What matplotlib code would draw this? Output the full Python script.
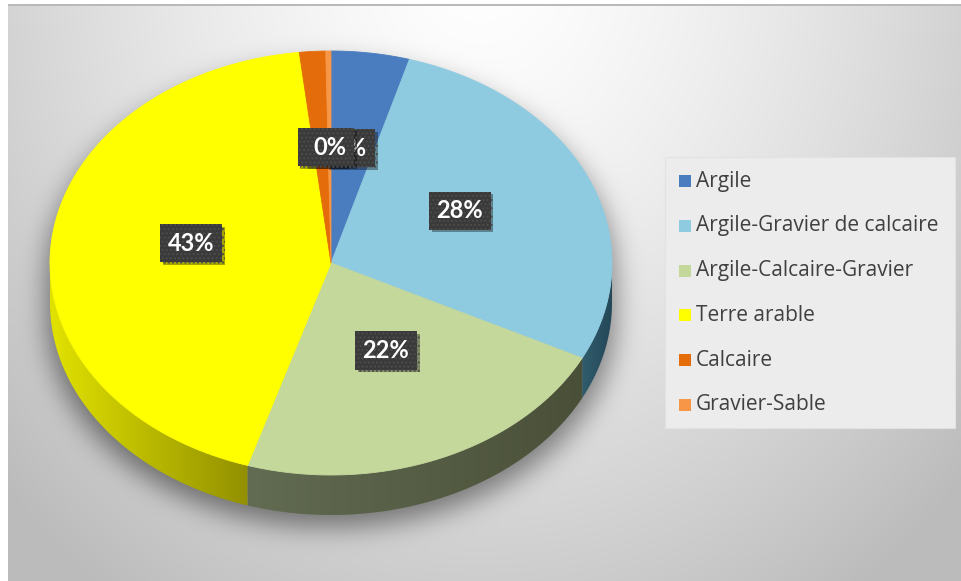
import numpy as np
import matplotlib
matplotlib.use("Agg")
import matplotlib.pyplot as plt
from matplotlib.patches import Polygon, Rectangle
import matplotlib.patheffects as pe

# soil types and their share of the sampled area (%)
categories = ["Argile", "Argile-Gravier de calcaire", "Argile-Calcaire-Gravier",
              "Terre arable", "Calcaire", "Gravier-Sable"]
shares = [4.5, 27.9, 22.4, 43.4, 1.5, 0.3]

top_colors = ["#4a7cc0", "#8fcbe0", "#c4d89c", "#ffff00", "#e46c0a", "#f79646"]
# side wall colours, left -> right
side_colors = [((40, 80, 120), (30, 65, 100)),
               ((48, 92, 108), (36, 72, 88)),
               ((98, 108, 82), (74, 80, 56)),
               ((226, 226, 0), (146, 144, 0)),
               ((150, 70, 10), (120, 55, 5)),
               ((160, 95, 45), (130, 75, 35))]

W, H = 962, 581
CX, CY, RX, RY, DEPTH = 331, 263, 281, 212, 40

fig = plt.figure(figsize=(W / 100, H / 100), dpi=100)
ax = fig.add_axes([0, 0, 1, 1])
ax.axis("off")


def blur(a, s):
    k = np.exp(-0.5 * (np.arange(-3 * s, 3 * s + 1) / s) ** 2)
    k /= k.sum()
    a = np.apply_along_axis(lambda r: np.convolve(r, k, mode="same"), 1, a)
    return np.apply_along_axis(lambda c: np.convolve(c, k, mode="same"), 0, a)


# background: soft radial grey gradient + drop shadow under the pie
yy, xx = np.mgrid[0:H, 0:W].astype(float)
d = np.sqrt(((xx - 480) / 540) ** 2 + ((yy + 40) / 640) ** 2)
bg = 255 - 52 * np.clip(d, 0, 1.2) ** 1.4
off = 12
foot = ((((xx - CX) / (RX + 4)) ** 2 + ((yy - CY - off) / RY) ** 2) <= 1) | \
       ((((xx - CX) / (RX + 4)) ** 2 + ((yy - CY - DEPTH - off) / RY) ** 2) <= 1) | \
       ((np.abs(xx - CX) <= RX + 4) & (yy >= CY + off) & (yy <= CY + DEPTH + off))
bg -= 95 * blur(foot.astype(float), 13)
bg[:4, :] = 255
bg[:, :8] = 255
bg[4:6, 8:] = 185
ax.imshow(np.dstack([bg] * 3).clip(0, 255).astype(np.uint8),
          extent=(0, W, H, 0), zorder=0)


def rim(t0, t1, dy=0, n=160):
    t = np.radians(np.linspace(t0, t1, n))
    return np.column_stack([CX + RX * np.sin(t), CY + dy - RY * np.cos(t)])


edges = np.concatenate([[0], np.cumsum(shares) / sum(shares) * 360])

# side walls of the front half (clockwise angle 90..270 from 12 o'clock)
for i in range(len(shares)):
    s, e = max(edges[i], 90), min(edges[i + 1], 270)
    if s >= e:
        continue
    poly = np.vstack([rim(s, e), rim(e, s, dy=DEPTH)])
    patch = Polygon(poly, closed=True, facecolor="none", edgecolor="none")
    ax.add_patch(patch)
    c0, c1 = [np.array(c) / 255 for c in side_colors[i]]
    g = np.linspace(0, 1, 256)[None, :, None]
    img = c0 * (1 - g) + c1 * g
    im = ax.imshow(img, extent=(poly[:, 0].min(), poly[:, 0].max(),
                                poly[:, 1].max(), poly[:, 1].min()),
                   aspect="auto", zorder=2)
    im.set_clip_path(patch)

# top faces
for i in range(len(shares)):
    pts = np.vstack([[CX, CY], rim(edges[i], edges[i + 1])])
    ax.add_patch(Polygon(pts, closed=True, facecolor=top_colors[i],
                         edgecolor=top_colors[i], linewidth=0.6, zorder=3))

# percentage labels (the three thin slices share one spot, as in the source chart)
for i, v in enumerate(shares):
    mid = np.radians((edges[i] + edges[i + 1]) / 2)
    x = CX + 0.5 * RX * np.sin(mid)
    y = CY - 10 - 0.5 * RY * np.cos(mid)
    t = ax.text(x, y, f"{int(v + 0.5)}%", color="white", fontsize=17,
                fontweight="bold", family=["Lato", "DejaVu Sans"],
                ha="center", va="center", zorder=5,
                bbox=dict(boxstyle="square,pad=0.32", fc="#3a3a3a",
                          ec="#4c4c4c", lw=0, hatch="...."))
    t.get_bbox_patch().set_path_effects(
        [pe.withSimplePatchShadow(offset=(2, -2), shadow_rgbFace="black", alpha=0.35),
         pe.Normal()])

# legend
ax.add_patch(Rectangle((665, 157), 290, 271, facecolor="#ececec",
                       edgecolor="#e2e2e2", linewidth=0.8, zorder=4))
for i, name in enumerate(categories):
    yc = 181 + 44.8 * i
    ax.add_patch(Rectangle((679, yc - 6), 12, 12, facecolor=top_colors[i],
                           edgecolor="none", zorder=5))
    ax.text(696, yc, name, color="#404040", fontsize=15,
            family=["Open Sans", "DejaVu Sans"], ha="left", va="center", zorder=5)

ax.set_xlim(0, W)
ax.set_ylim(H, 0)
fig.savefig("out.png", dpi=100)
